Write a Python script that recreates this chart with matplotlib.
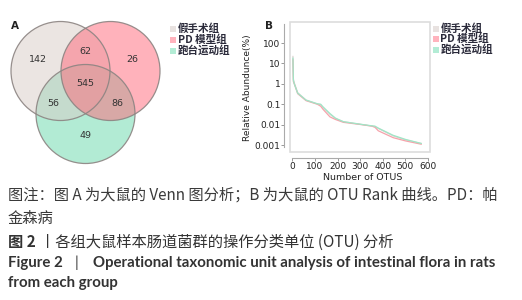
import matplotlib
matplotlib.use("Agg")
import matplotlib.pyplot as plt
from matplotlib.patches import Circle, Rectangle

plt.rcParams['font.family'] = ['DejaVu Sans', 'Noto Sans CJK SC']

# ---------------- data ----------------
groups = ["假手术组", "PD 模型组", "跑台运动组"]
venn_counts = [142, 62, 26, 545, 56, 86, 49]   # 1, 1&2, 2, 1&2&3, 1&3, 2&3, 3

rank = [2, 4, 8, 23, 60, 110, 125, 135, 166, 190, 225, 300, 351, 365, 380, 446, 500, 570]
sham = [22, 1.7, 1.1, 0.37, 0.16, 0.105, 0.095, 0.07, 0.032, 0.02, 0.014, 0.0105,
        0.0085, 0.0078, 0.0065, 0.0028, 0.0018, 0.0012]
pd_model = [15, 1.3, 1.0, 0.33, 0.15, 0.1, 0.08, 0.057, 0.024, 0.018, 0.013, 0.0102,
            0.0085, 0.0075, 0.005, 0.0023, 0.0016, 0.0011]
exercise = [18, 1.5, 1.0, 0.35, 0.16, 0.105, 0.1, 0.075, 0.035, 0.021, 0.014, 0.0105,
            0.0088, 0.0085, 0.0068, 0.003, 0.0019, 0.0012]

y_ticks = [0.001, 0.01, 0.1, 1, 10, 100]
y_ticklabels = ["0.001", "0.01", "0.1", "1", "10", "100"]
x_ticks = [0, 100, 200, 300, 400, 500, 600]

# ---------------- style ----------------
W, H = 522, 300
fill_cols = ["#d9cdc7", "#ff6779", "#67d9ab"]
line_cols = ["#dcd4d2", "#f5a3ab", "#9fe6c6"]
leg_cols = ["#e8e2e0", "#ffb3bd", "#b3ecd5"]
CJK = ['Noto Sans CJK SC', 'DejaVu Sans']
LAT = ['Lato', 'DejaVu Sans']

fig = plt.figure(figsize=(W / 100, H / 100), dpi=100)

# ---------------- panel B ----------------
ax = fig.add_axes([290 / W, 1 - 152 / H, 140 / W, 130 / H])
ax.set_yscale('log')
for vals, col in zip([sham, pd_model, exercise], line_cols):
    ax.plot(rank, vals, color=col, lw=0.9, solid_joinstyle='round')
ax.set_ylim(10 ** -3.34, 10 ** 3.03)
ax.set_xlim(-11, 609)
for s in ['top', 'right']:
    ax.spines[s].set_visible(False)
ax.spines['left'].set_position(('outward', 4))
ax.spines['bottom'].set_position(('outward', 4))
ax.spines['left'].set_bounds(10 ** -3.1, 10 ** 2.95)
ax.spines['bottom'].set_bounds(0, 600)
for s in ['left', 'bottom']:
    ax.spines[s].set_color('#aaaaaa')
    ax.spines[s].set_linewidth(0.8)
ax.add_patch(Rectangle((0, 0), 1, 1, transform=ax.transAxes, fill=False,
                       ec='#dddddd', lw=1.2, clip_on=False))
ax.set_yticks(y_ticks)
ax.set_yticklabels(y_ticklabels)
ax.minorticks_off()
ax.set_xticks(x_ticks)
ax.tick_params(axis='both', length=2, width=0.6, color='#888888',
               labelsize=6.5, labelcolor='#222222', pad=1)
ax.set_ylabel("Relative Abundunce(%)", fontsize=6.5, color='#222222')
ax.yaxis.set_label_coords((252 - 290) / 140, (152 - 88) / 130)
ax.set_xlabel("Number of OTUS", fontsize=6.8, color='#222222')
ax.xaxis.set_label_coords((363 - 290) / 140, (152 - 173) / 130)

# ---------------- panel A (Venn) ----------------
vax = fig.add_axes([0, 0, 1, 1], zorder=-1)
vax.set_xlim(0, W)
vax.set_ylim(H, 0)
vax.axis('off')
centers = [(60.5, 71), (110.5, 71), (85.5, 114)]
r = 49.5
for i in [2, 0, 1]:
    vax.add_patch(Circle(centers[i], r, facecolor=fill_cols[i], alpha=0.5,
                         edgecolor='none'))
for i in [2, 0, 1]:
    vax.add_patch(Circle(centers[i], r, facecolor='none', edgecolor='#8c8482',
                         lw=0.9, alpha=0.9))
region_pos = [(38, 59), (85, 51), (132, 59), (85, 83), (53, 104), (117, 104), (85, 135)]
for n, (x, y) in zip(venn_counts, region_pos):
    vax.text(x, y, str(n), ha='center', va='center', fontsize=6.8, color='#333333')

vax.text(15, 26, "A", ha='center', va='center', fontsize=7.5, fontweight='bold', color='#222222')
vax.text(269, 26, "B", ha='center', va='center', fontsize=7.5, fontweight='bold', color='#222222')

# legends
for lx, ys in [(170, [28.5, 39.5, 50.5]), (433, [28.5, 39, 49.5])]:
    for g, c, y in zip(groups, leg_cols, ys):
        vax.add_patch(Rectangle((lx, y - 3), 6, 6, facecolor=c, edgecolor='none'))
        vax.text(lx + 7.5, y, g, ha='left', va='center', fontsize=7.6,
                 family=CJK, fontweight='bold', color='#2a2a3a')

# ---------------- caption ----------------
cap_col = '#3a3a3a'
FS = 11
vax.text(8, 195, "图注：图 A 为大鼠的 Venn 图分析；B 为大鼠的 OTU Rank 曲线。PD：帕",
         ha='left', va='center', fontsize=FS, family=CJK, color=cap_col)
vax.text(8, 218, "金森病", ha='left', va='center', fontsize=FS, family=CJK, color=cap_col)
vax.text(8, 242, "图 2", ha='left', va='center', fontsize=FS, family=CJK,
         fontweight='bold', color='#333333')
vax.text(40, 242, "丨各组大鼠样本肠道菌群的操作分类单位 (OTU) 分析", ha='left', va='center',
         fontsize=FS, family=CJK, color='#333333')
vax.text(8, 263, "Figure 2", ha='left', va='center', fontsize=10.8, family=LAT,
         fontweight='bold', color='#333333')
vax.text(75, 263, "|", ha='left', va='center', fontsize=10.8, family=LAT,
         color='#333333')
vax.text(93, 263, "Operational taxonomic unit analysis of intestinal flora in rats",
         ha='left', va='center', fontsize=10.8, family=LAT,
         fontweight='bold', color='#333333')
vax.text(8, 283, "from each group", ha='left', va='center', fontsize=10.8,
         family=LAT, fontweight='bold', color='#333333')

fig.savefig("out.png", dpi=100)
